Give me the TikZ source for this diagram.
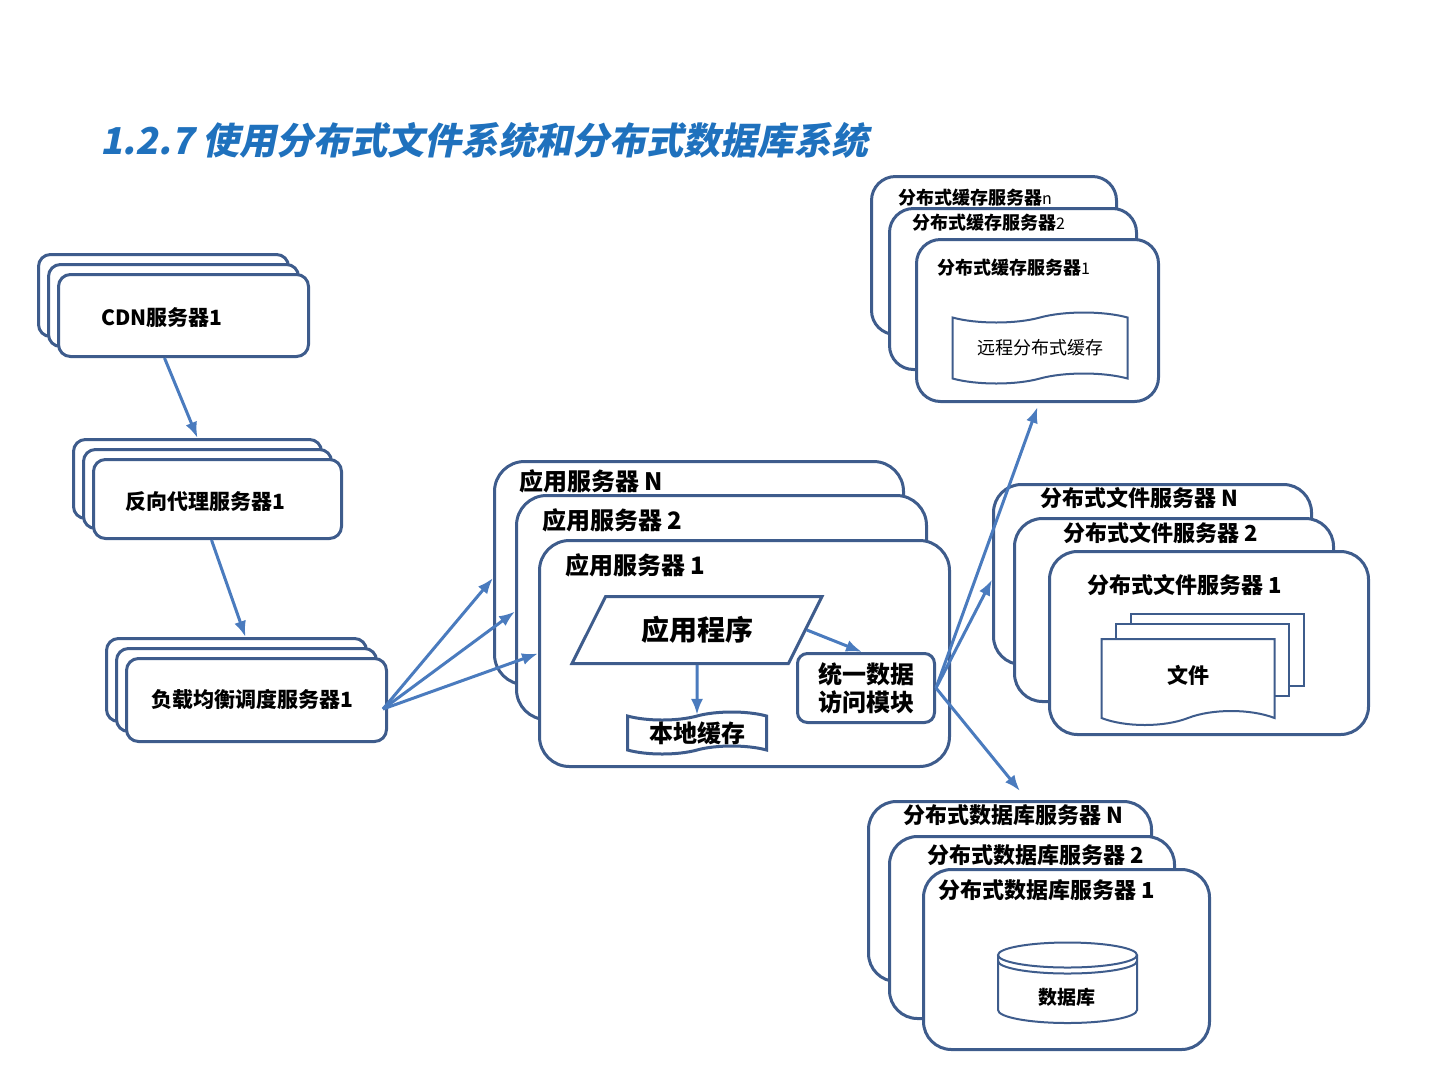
\documentclass[tikz,border=0pt]{standalone}
\usepackage{fontspec}
\setmainfont{Noto Sans CJK SC}
\newfontfamily\titlefont{Noto Sans CJK SC}[FakeSlant=0.2]
\usetikzlibrary{arrows.meta,shapes.geometric,shapes.symbols}

\definecolor{titleblue}{RGB}{31,113,189}
\definecolor{boxline}{RGB}{62,92,140}
\definecolor{arrowblue}{RGB}{74,123,190}

\tikzset{
  srv/.style={draw=boxline,line width=3pt,fill=white,rounded corners=#1,
    anchor=north west,inner sep=0pt},
  srv/.default=26pt,
  thin box/.style={draw=boxline,line width=2pt,fill=white,inner sep=0pt},
  lbl/.style={inner sep=0pt,font=\fontsize{22}{26}\selectfont\bfseries},
  flow/.style={draw=arrowblue,line width=3pt,-{Latex[length=16pt,width=12pt]}},
}

\begin{document}
\begin{tikzpicture}[x=1pt,y=-1pt]
  \useasboundingbox (0,0) rectangle (1440,1080);

  \node[anchor=west,text=titleblue,inner sep=0pt,
    font=\titlefont\bfseries\fontsize{37}{42}\selectfont] (title) at (100,140)
    {1.2.7 使用分布式文件系统和分布式数据库系统};

  % front end
  \node[srv=12pt,minimum width=250pt,minimum height=82pt] (cdn3) at (37,253) {};
  \node[srv=12pt,minimum width=250pt,minimum height=82pt] (cdn2) at (47,263) {};
  \node[srv=12pt,minimum width=250pt,minimum height=82pt] (cdn1) at (57,273) {};
  \node[lbl,font=\fontsize{21}{25}\selectfont\bfseries] (cdnlbl) at (162,318) {CDN服务器1};

  \node[srv=12pt,minimum width=248pt,minimum height=79pt] (proxy3) at (72,438) {};
  \node[srv=12pt,minimum width=248pt,minimum height=79pt] (proxy2) at (82,448) {};
  \node[srv=12pt,minimum width=248pt,minimum height=79pt] (proxy1) at (92,458) {};
  \node[lbl,font=\fontsize{21}{25}\selectfont\bfseries] (proxylbl) at (205,502) {反向代理服务器1};

  \node[srv=12pt,minimum width=260pt,minimum height=83pt] (lb3) at (105,637) {};
  \node[srv=12pt,minimum width=260pt,minimum height=83pt] (lb2) at (115,647) {};
  \node[srv=12pt,minimum width=260pt,minimum height=83pt] (lb1) at (125,657) {};
  \node[lbl,font=\fontsize{21}{25}\selectfont\bfseries] (lblbl) at (252,700) {负载均衡调度服务器1};

  % application servers
  \node[srv=30pt,minimum width=409pt,minimum height=223pt] (appN) at (493,460) {};
  \node[lbl,anchor=west,font=\fontsize{24}{28}\selectfont\bfseries] (appNlbl) at (519,481) {应用服务器 N};
  \node[srv=30pt,minimum width=410pt,minimum height=224pt] (app2) at (515,494) {};
  \node[lbl,anchor=west,font=\fontsize{24}{28}\selectfont\bfseries] (app2lbl) at (542,520) {应用服务器 2};
  \node[srv=30pt,minimum width=410pt,minimum height=226pt] (app1) at (538,539) {};
  \node[lbl,anchor=west,font=\fontsize{24}{28}\selectfont\bfseries] (app1lbl) at (565,565) {应用服务器 1};

  \node[trapezium,trapezium left angle=53,trapezium right angle=127,
    trapezium stretches=true,minimum width=250pt,minimum height=67pt,
    draw=boxline,line width=3pt,fill=white,inner sep=0pt,
    font=\fontsize{28}{32}\selectfont\bfseries] (prog) at (697,630) {应用程序};
  \node[tape,draw=boxline,line width=3pt,fill=white,inner sep=0pt,
    minimum width=139pt,minimum height=42pt,tape bend height=8pt,
    font=\fontsize{24}{28}\selectfont\bfseries] (lcache) at (697,733) {本地缓存};
  \node[draw=boxline,line width=3pt,fill=white,rounded corners=10pt,
    minimum width=137pt,minimum height=69pt,inner sep=0pt,align=center,
    font=\fontsize{24}{28}\selectfont\bfseries] (dam) at (866,688) {统一数据\\访问模块};

  % distributed cache servers
  \node[srv=24pt,minimum width=245pt,minimum height=158pt] (cacheN) at (870,175) {};
  \node[lbl,anchor=west,font=\fontsize{18}{22}\selectfont\bfseries] (cacheNlbl) at (898,198)
    {分布式缓存服务器{\fontsize{16}{18}\selectfont\mdseries n}};
  \node[srv=24pt,minimum width=247pt,minimum height=161pt] (cache2) at (888,207) {};
  \node[lbl,anchor=west,font=\fontsize{18}{22}\selectfont\bfseries] (cache2lbl) at (912,223)
    {分布式缓存服务器{\fontsize{16}{18}\selectfont\mdseries 2}};
  \node[srv=24pt,minimum width=242pt,minimum height=162pt] (cache1) at (915,238) {};
  \node[lbl,anchor=west,font=\fontsize{18}{22}\selectfont\bfseries] (cache1lbl) at (937,268)
    {分布式缓存服务器{\fontsize{16}{18}\selectfont\mdseries 1}};
  \node[tape,thin box,minimum width=175pt,minimum height=71pt,tape bend height=10pt,
    font=\fontsize{18}{22}\selectfont] (rcache) at (1040,348) {远程分布式缓存};

  % distributed file servers
  \node[srv=28pt,minimum width=318pt,minimum height=180pt] (fileN) at (992,483) {};
  \node[lbl,anchor=west] (fileNlbl) at (1040,498) {分布式文件服务器 N};
  \node[srv=28pt,minimum width=319pt,minimum height=183pt] (file2) at (1013,517) {};
  \node[lbl,anchor=west] (file2lbl) at (1063,533) {分布式文件服务器 2};
  \node[srv=28pt,minimum width=319pt,minimum height=183pt] (file1) at (1048,550) {};
  \node[lbl,anchor=west] (file1lbl) at (1087,585) {分布式文件服务器 1};
  \node[thin box,anchor=north west,minimum width=173pt,minimum height=72pt] (doc3) at (1130,613) {};
  \node[thin box,anchor=north west,minimum width=173pt,minimum height=72pt] (doc2) at (1115,623) {};
  \node[tape,thin box,tape bend top=none,tape bend bottom=in and out,tape bend height=14pt,
    minimum width=173pt,minimum height=86pt,
    font=\fontsize{21}{25}\selectfont\bfseries] (doc1) at (1188,675) {文件};

  % distributed database servers
  \node[srv=28pt,minimum width=283pt,minimum height=180pt] (dbN) at (867,800) {};
  \node[lbl,anchor=west] (dbNlbl) at (903,815) {分布式数据库服务器 N};
  \node[srv=28pt,minimum width=285pt,minimum height=182pt] (db2) at (888,835) {};
  \node[lbl,anchor=west] (db2lbl) at (927,855) {分布式数据库服务器 2};
  \node[srv=28pt,minimum width=286pt,minimum height=180pt] (db1) at (922,868) {};
  \node[lbl,anchor=west] (db1lbl) at (938,890) {分布式数据库服务器 1};
  \draw[thin box] (998,955) -- (998,1010)
    arc[start angle=180,end angle=0,x radius=69.5,y radius=13] -- (1137,955);
  \draw[thin box] (1067.5,955) ellipse[x radius=69.5,y radius=12.5];
  \draw[thin box,fill=none] (998,961) arc[start angle=180,end angle=0,x radius=69.5,y radius=12.5];
  \node[inner sep=0pt,font=\fontsize{19}{22}\selectfont\bfseries] (dbase) at (1067,997) {数据库};

  % connectors
  \draw[flow] ([xshift=-19pt]cdn1.south) -- (proxy3.north);
  \draw[flow] ([xshift=-6pt]proxy1.south) -- ([xshift=9pt]lb3.north);
  \coordinate (lbout) at ([xshift=-5pt,yshift=-9pt]lb1.east);
  \draw[flow] (lbout) -- ([yshift=-5pt]appN.west);
  \draw[flow] (lbout) -- ([yshift=-4pt]app2.west);
  \draw[flow] (lbout) -- (app1.west);
  \draw[flow] (prog.south) -- (lcache.north);
  \draw[flow] (prog.east) -- ([xshift=-4pt]dam.north);
  \draw[flow] (dam.east) -- ([yshift=-4pt]cache1.south);
  \draw[flow] (dam.east) -- ([yshift=-5pt]fileN.west);
  \draw[flow] (dam.east) -- ([xshift=10pt,yshift=9pt]dbN.north);
\end{tikzpicture}
\end{document}
